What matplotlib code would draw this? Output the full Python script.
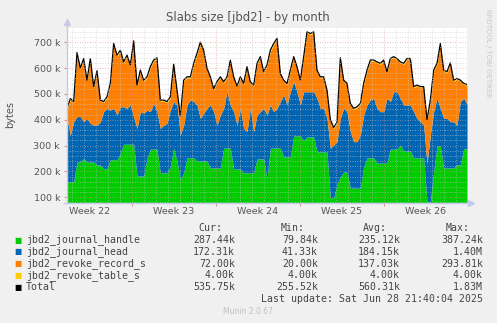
import numpy as np
import matplotlib.pyplot as plt
from matplotlib.lines import Line2D

# values in k (1000 bytes), one sample every ~6.7 h over the month view
handle = [159, 159, 159, 236, 236, 250, 236, 236, 236, 225,
          225, 210, 210, 245, 245, 245, 270, 305, 305, 305,
          305, 182, 182, 182, 250, 286, 286, 286, 194, 194,
          194, 218, 290, 240, 168, 195, 252, 252, 252, 240,
          240, 240, 240, 213, 213, 213, 213, 290, 290, 290,
          209, 209, 209, 194, 194, 194, 194, 248, 248, 248,
          170, 290, 290, 290, 290, 256, 256, 256, 337, 337,
          337, 320, 333, 333, 333, 275, 275, 275, 275, 97,
          97, 150, 180, 197, 197, 135, 135, 135, 135, 217,
          252, 252, 252, 232, 232, 232, 232, 286, 286, 286,
          302, 279, 279, 279, 252, 252, 252, 252, 81, 81,
          200, 298, 298, 213, 213, 213, 213, 225, 225, 287,
          287]
head = [246, 182, 233, 176, 176, 142, 169, 150, 143, 154,
        167, 221, 234, 192, 199, 173, 180, 145, 139, 152,
        105, 184, 249, 243, 187, 145, 177, 145, 172, 185,
        192, 219, 180, 217, 173, 184, 205, 224, 218, 217,
        165, 185, 204, 244, 218, 166, 205, 154, 218, 167,
        222, 170, 235, 172, 160, 250, 160, 170, 183, 196,
        248, 167, 141, 154, 180, 240, 201, 252, 210, 171,
        120, 188, 175, 175, 175, 208, 169, 169, 130, 192,
        205, 165, 225, 247, 234, 219, 180, 180, 206, 201,
        205, 224, 231, 212, 199, 199, 251, 184, 222, 222,
        181, 178, 178, 178, 179, 153, 140, 127, 149, 260,
        231, 185, 146, 192, 192, 179, 179, 154, 245, 196,
        173]
revoke_record = [35, 137, 74, 244, 184, 241, 144, 247, 145, 207,
                 80, 35, 41, 100, 247, 228, 215, 170, 202, 151,
                 291, 164, 157, 124, 125, 170, 164, 205, 106, 93,
                 80, 48, 141, 54, 70, 170, 105, 86, 144, 196,
                 291, 240, 151, 105, 85, 164, 144, 99, 54, 169,
                 131, 147, 118, 171, 247, 99, 176, 196, 209, 138,
                 190, 208, 260, 267, 105, 53, 79, 80, 93, 93,
                 92, 132, 228, 222, 228, 105, 118, 118, 106, 107,
                 64, 71, 231, 105, 106, 105, 125, 131, 118, 119,
                 131, 151, 144, 176, 183, 196, 99, 163, 132, 125,
                 137, 157, 176, 176, 93, 125, 132, 145, 166, 131,
                 157, 131, 247, 183, 177, 224, 157, 177, 79, 54,
                 72]
revoke_table = [4.0] * 121

names = ['jbd2_journal_handle', 'jbd2_journal_head', 'jbd2_revoke_record_s',
         'jbd2_revoke_table_s', 'Total']
colors = ['#00CC00', '#0066B3', '#FF8000', '#FFCC00', '#000000']
cur = ['287.44k', '172.31k', '72.00k', '4.00k', '535.75k']
mins = ['79.84k', '41.33k', '20.00k', '4.00k', '255.52k']
avgs = ['235.12k', '184.15k', '137.03k', '4.00k', '560.31k']
maxs = ['387.24k', '1.40M', '293.81k', '4.00k', '1.83M']
weeks = ['Week 22', 'Week 23', 'Week 24', 'Week 25', 'Week 26']

W, H = 497, 323
span = 400 / 12.0          # days shown (12 px per day)
first_week = 65 / 12.0     # first week boundary, in days
days = np.linspace(0, span, len(handle))

fig = plt.figure(figsize=(W / 100, H / 100), dpi=100, facecolor='#F0F0F0')
ax = fig.add_axes([67 / W, 1 - 203 / H, 400 / W, 175 / H])
ax.set_facecolor('white')

layers = np.vstack([handle, head, revoke_record, revoke_table])
tops = np.cumsum(layers, axis=0)
base = np.zeros(len(handle))
for k in range(4):
    ax.fill_between(days, base, tops[k], color=colors[k], linewidth=0, zorder=2)
    base = tops[k]
ax.plot(days, tops[3], color='black', linewidth=0.9, zorder=3)

ax.set_xlim(0, span)
ax.set_ylim(77.4, 755)

# grid on top, rrdtool style
for v in range(80, 760, 20):
    major = v % 100 == 0
    ax.axhline(v, color='#E09090' if major else '#C8C8C8', linewidth=0.6,
               linestyle=(0, (1, 2)), alpha=0.8, zorder=4)
d = first_week - 5
while d < span:
    major = abs((d - first_week) % 7) < 1e-6
    ax.axvline(d, color='#E09090' if major else '#C8C8C8', linewidth=0.6,
               linestyle=(0, (1, 2)), alpha=0.8, zorder=4)
    d += 1

for s in ax.spines.values():
    s.set_visible(False)
ax.set_xticks([first_week + 7 * k for k in range(4)])
ax.set_xticklabels([])
ax.tick_params(axis='x', length=2, color='#E09090')
ax.set_yticks(range(100, 800, 100))
ax.set_yticklabels(['%d k' % v for v in range(100, 800, 100)],
                   color='#555555', fontsize=6.8)
ax.tick_params(axis='y', length=2, color='#E09090', pad=3)

for k, w in enumerate(weeks):
    ax.text(first_week - 3.5 + 7 * k, -0.05, w, transform=ax.get_xaxis_transform(),
            ha='center', va='center', fontsize=6.8, color='#555555')

# axis lines with arrows
axc = '#C5CAE9'
fig.add_artist(Line2D([67 / W, 67 / W], [1 - 203 / H, 1 - 23 / H], color=axc, linewidth=1))
fig.add_artist(Line2D([64 / W, 470 / W], [1 - 203 / H, 1 - 203 / H], color=axc, linewidth=1))
fig.add_artist(Line2D([67 / W], [1 - 22 / H], marker='^', markersize=4, color=axc))
fig.add_artist(Line2D([471 / W], [1 - 203 / H], marker='>', markersize=4, color=axc))

fig.text(248 / W, 1 - 18 / H, 'Slabs size [jbd2] - by month', ha='center', va='center',
         fontsize=8.4, color='#555555')
fig.text(10 / W, 1 - 114 / H, 'bytes', rotation=90, ha='center', va='center',
         fontsize=7, color='#555555')
fig.text(488 / W, 1 - 53 / H, 'RRDTOOL / TOBI OETIKER', rotation=270, ha='center',
         va='center', fontsize=5, color='#C8C8C8')

mono = 'DejaVu Sans Mono'
fs = 7.1
tc = '#444444'
hy = 228
for lab, xr in zip(['Cur:', 'Min:', 'Avg:', 'Max:'], [222, 305, 387, 470]):
    fig.text(xr / W, 1 - hy / H, lab, ha='right', va='center', family=mono,
             fontsize=fs, color=tc)
for r in range(5):
    y = 1 - (240 + 11.8 * r) / H
    fig.text(14 / W, y, '\u25a0', ha='left', va='center', fontsize=5.5,
             color=colors[r])
    fig.text(26 / W, y, names[r], ha='left', va='center', family=mono,
             fontsize=fs, color=tc)
    for val, xr in zip([cur[r], mins[r], avgs[r], maxs[r]], [235, 318, 400, 483]):
        fig.text(xr / W, y, val, ha='right', va='center', family=mono,
                 fontsize=fs, color=tc)
fig.text(483 / W, 1 - 299 / H, 'Last update: Sat Jun 28 21:40:04 2025', ha='right',
         va='center', family=mono, fontsize=fs, color=tc)
fig.text(248 / W, 1 - 312 / H, 'Munin 2.0.67', ha='center', va='center',
         fontsize=5.5, color='#C0C0C0')

fig.savefig('out.png', dpi=100, facecolor=fig.get_facecolor())
